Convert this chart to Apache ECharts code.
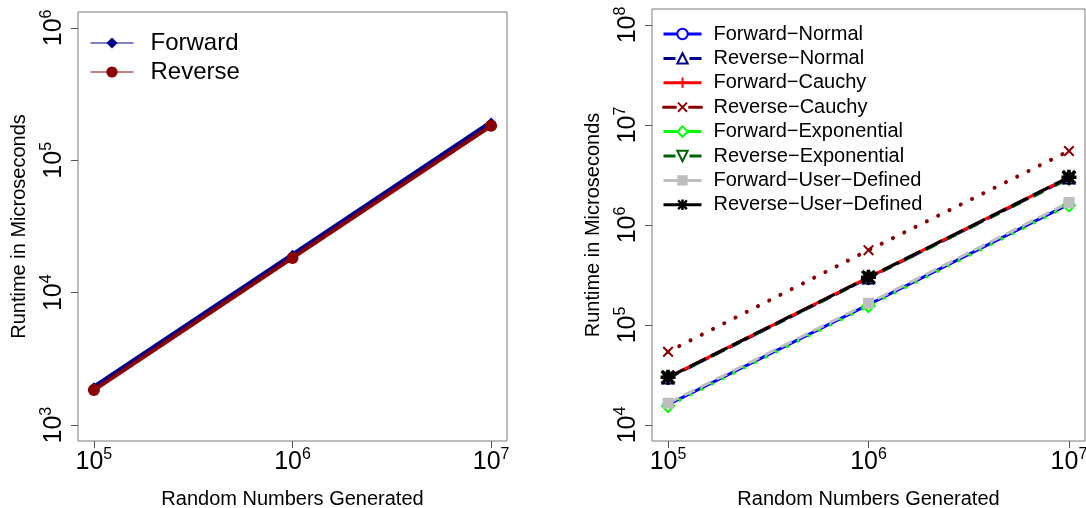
<!DOCTYPE html>
<html>
<head>
<meta charset="utf-8">
<script src="https://cdn.jsdelivr.net/npm/echarts@6/dist/echarts.min.js"></script>
<style>
    html, body { margin: 0; padding: 0; background: #fff; }
    #main { width: 1086px; height: 508px; }
</style>
</head>
<body>
<div id="main"></div>
<script>
// random numbers generated (x)
var sizes = [1e5, 1e6, 1e7];

// left panel, runtime in microseconds
var forward = [1950, 19500, 195000];
var reverse = [1840, 18300, 182000];

// right panel, runtime in microseconds
var forwardNormal = [16000, 160000, 1620000];
var reverseNormal = [29500, 295000, 2950000];
var forwardCauchy = [30000, 300000, 3000000];
var reverseCauchy = [54000, 560000, 5500000];
var forwardExponential = [15500, 155000, 1570000];
var reverseExponential = [29500, 295000, 2900000];
var forwardUserDefined = [16500, 165000, 1680000];
var reverseUserDefined = [30000, 300000, 3000000];

var FONT = '"Liberation Sans", Arial, Helvetica, sans-serif';
var MINUS = '\u2212';

function pairs(values) {
    return sizes.map(function (x, i) { return [x, values[i]]; });
}

// 10^n label like R's expression(10^n)
function powLabel(value) {
    var e = Math.round(Math.log10(value));
    if (Math.abs(Math.log10(value) - e) > 1e-6) {
        return '';
    }
    return '{b|10}{s|' + e + '}';
}

var labelRich = {
    b: { fontSize: 25, fontFamily: FONT, color: '#000', lineHeight: 28, verticalAlign: 'bottom' },
    s: { fontSize: 16, fontFamily: FONT, color: '#000', lineHeight: 7, verticalAlign: 'top' }
};

function xAxisFor(gridIndex) {
    return {
        type: 'log',
        logBase: 10,
        gridIndex: gridIndex,
        min: Math.pow(10, 4.92),
        max: Math.pow(10, 7.08),
        name: 'Random Numbers Generated',
        nameLocation: 'middle',
        nameGap: 48,
        nameTextStyle: { fontSize: 20, fontFamily: FONT, color: '#000' },
        axisLine: { show: false },
        axisTick: { show: true, length: 7, lineStyle: { color: '#555' } },
        axisLabel: { margin: 6, formatter: powLabel, rich: labelRich, showMinLabel: false, showMaxLabel: false },
        splitLine: { show: false },
        minorTick: { show: false }
    };
}

function yAxisFor(gridIndex, lo, hi) {
    return {
        type: 'log',
        logBase: 10,
        gridIndex: gridIndex,
        min: Math.pow(10, lo),
        max: Math.pow(10, hi),
        name: 'Runtime in Microseconds',
        nameLocation: 'middle',
        nameGap: 49,
        nameTextStyle: { fontSize: 20, fontFamily: FONT, color: '#000' },
        axisLine: { show: false },
        axisTick: { show: true, length: 7, lineStyle: { color: '#555' } },
        axisLabel: { margin: 11, rotate: 90, formatter: powLabel, rich: labelRich, showMinLabel: false, showMaxLabel: false },
        splitLine: { show: false },
        minorTick: { show: false }
    };
}

function makeSeries(name, values, axisIndex, color, symbol, symbolSize, lineType, lineWidth, hollow, extra) {
    var s = {
        name: name,
        type: 'line',
        xAxisIndex: axisIndex,
        yAxisIndex: axisIndex,
        data: pairs(values),
        symbol: symbol,
        symbolSize: symbolSize,
        showAllSymbol: true,
        clip: false,
        color: color,
        lineStyle: { color: color, width: lineWidth, type: lineType },
        itemStyle: hollow ? { color: '#fff', borderColor: color, borderWidth: 2 } : { color: color },
        emphasis: { disabled: true }
    };
    if (extra) {
        for (var k in extra) s[k] = extra[k];
    }
    return s;
}

// legend entry; reverse runs show R's "line - point - line" gap look
function legendItem(name, gapped) {
    return { name: name, lineStyle: { type: gapped ? [12, 14] : 'solid', width: 3 } };
}

var PLUS = 'path://M4.1,0H5.9V4.1H10V5.9H5.9V10H4.1V5.9H0V4.1H4.1Z';
var CROSS = 'path://M1.3,0L5,3.7L8.7,0L10,1.3L6.3,5L10,8.7L8.7,10L5,6.3L1.3,10L0,8.7L3.7,5L0,1.3Z';
var STAR = 'path://M3.8,0H6.2V10H3.8Z M0,3.8H10V6.2H0Z M1.6,0L5,3.4L8.4,0L10,1.6L6.6,5L10,8.4L8.4,10L5,6.6L1.6,10L0,8.4L3.4,5L0,1.6Z';

var dom = document.getElementById('main');
var myChart = echarts.init(dom, null, { renderer: 'canvas' });

var nFwdNormal = 'Forward' + MINUS + 'Normal';
var nRevNormal = 'Reverse' + MINUS + 'Normal';
var nFwdCauchy = 'Forward' + MINUS + 'Cauchy';
var nRevCauchy = 'Reverse' + MINUS + 'Cauchy';
var nFwdExp = 'Forward' + MINUS + 'Exponential';
var nRevExp = 'Reverse' + MINUS + 'Exponential';
var nFwdUser = 'Forward' + MINUS + 'User' + MINUS + 'Defined';
var nRevUser = 'Reverse' + MINUS + 'User' + MINUS + 'Defined';

var option = {
    animation: false,
    backgroundColor: '#fff',
    grid: [
        { left: 78, top: 12, width: 429, height: 429, outerBoundsMode: 'none', containLabel: false,
          show: true, borderColor: '#7a7a7a', borderWidth: 1, backgroundColor: 'transparent' },
        { left: 652, top: 9, width: 433, height: 432, outerBoundsMode: 'none', containLabel: false,
          show: true, borderColor: '#7a7a7a', borderWidth: 1, backgroundColor: 'transparent' }
    ],
    xAxis: [xAxisFor(0), xAxisFor(1)],
    yAxis: [yAxisFor(0, 2.88, 6.12), yAxisFor(1, 3.84, 8.16)],
    legend: [
        {
            data: ['Forward', 'Reverse'],
            orient: 'vertical',
            left: 85,
            top: 26,
            itemWidth: 43,
            itemHeight: 14,
            itemGap: 5,
            selectedMode: false,
            lineStyle: { width: 1 },
            textStyle: { fontSize: 24, fontFamily: FONT, color: '#000', lineHeight: 24, padding: [0, 0, 0, 12] }
        },
        {
            data: [
                legendItem(nFwdNormal, false), legendItem(nRevNormal, true),
                legendItem(nFwdCauchy, false), legendItem(nRevCauchy, true),
                legendItem(nFwdExp, false), legendItem(nRevExp, true),
                legendItem(nFwdUser, false), legendItem(nRevUser, false)
            ],
            orient: 'vertical',
            left: 657,
            top: 19,
            itemWidth: 38,
            itemHeight: 13,
            itemGap: 4.4,
            selectedMode: false,
            textStyle: { fontSize: 20, fontFamily: FONT, color: '#000', lineHeight: 20, padding: [0, 0, 0, 7] }
        }
    ],
    series: [
        makeSeries('Forward', forward, 0, '#00008b', 'diamond', 9, 'solid', 4, false),
        makeSeries('Reverse', reverse, 0, '#8b0000', 'circle', 12, 'solid', 4, false),

        makeSeries(nFwdNormal, forwardNormal, 1, '#0000ff', 'circle', 9, 'solid', 3, true),
        makeSeries(nRevNormal, reverseNormal, 1, '#00008b', 'triangle', 11, [12, 5], 3, true),
        makeSeries(nFwdCauchy, forwardCauchy, 1, '#ff0000', PLUS, 12, 'solid', 3, false),
        makeSeries(nRevCauchy, reverseCauchy, 1, '#8b0000', CROSS, 11, [0.1, 12.5], 4, false,
            { lineStyle: { color: '#8b0000', width: 4, type: [0.1, 12.5], cap: 'round' } }),
        makeSeries(nFwdExp, forwardExponential, 1, '#00ff00', 'diamond', 12, [3, 9], 3, true),
        makeSeries(nRevExp, reverseExponential, 1, '#006400', 'triangle', 11, [10, 14], 3, true,
            { symbolRotate: 180 }),
        makeSeries(nFwdUser, forwardUserDefined, 1, '#bebebe', 'rect', 11, [12, 6], 3, false),
        makeSeries(nRevUser, reverseUserDefined, 1, '#000000', STAR, 15, [18, 6], 3, false)
    ]
};

myChart.setOption(option);
window.addEventListener('resize', myChart.resize);
</script>
</body>
</html>
